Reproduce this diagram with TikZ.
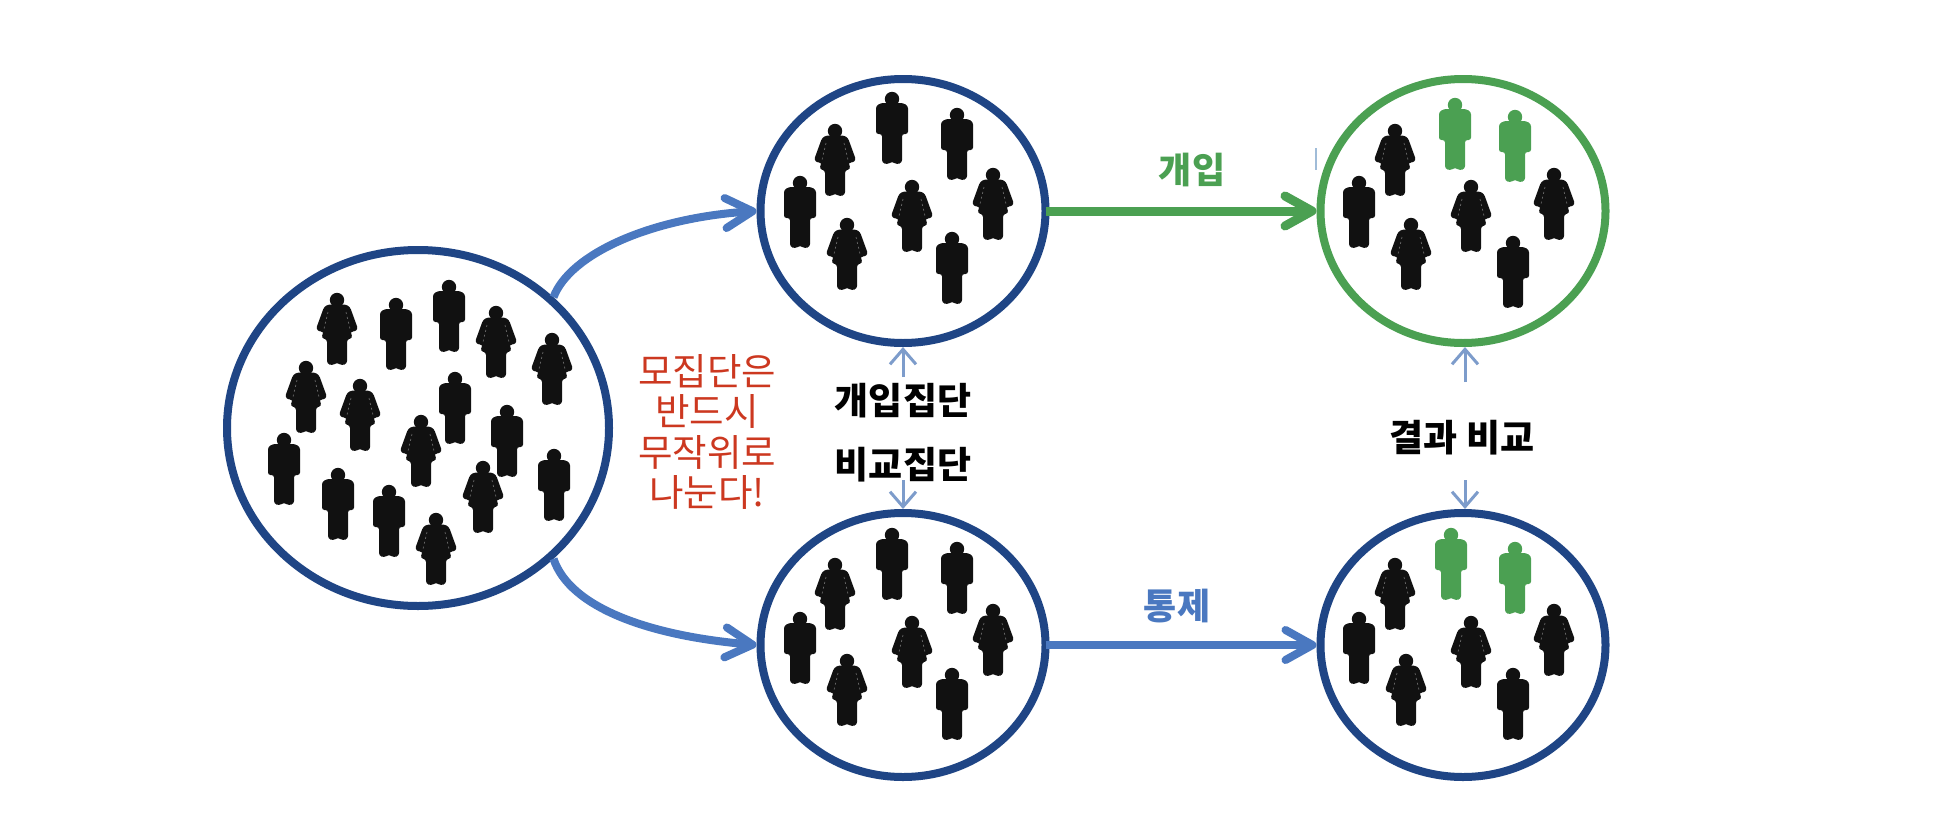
\documentclass[tikz,border=0pt]{standalone}
\usepackage{fontspec}
\setmainfont{Noto Sans CJK KR}
\usetikzlibrary{arrows.meta,shapes.geometric}
\definecolor{ring}{HTML}{1F4585}
\definecolor{arrowblue}{HTML}{4A78C0}
\definecolor{groupgreen}{HTML}{4BA052}
\definecolor{redtext}{HTML}{CC3820}
\definecolor{softblue}{HTML}{7D9CCB}
\definecolor{tickblue}{HTML}{A0BCD8}
\definecolor{ink}{HTML}{111111}
\definecolor{seam}{HTML}{666666}
\tikzset{
  x=1pt,y=-1pt,
  bigring/.style={ellipse,draw=ring,line width=8pt,inner sep=0pt,minimum width=382pt,minimum height=356pt},
  smallring/.style={ellipse,draw=ring,line width=8pt,inner sep=0pt,minimum width=285pt,minimum height=264pt},
  greenring/.style={smallring,draw=groupgreen},
  curvearrow/.style={draw=arrowblue,line width=8pt,-{Straight Barb[length=27pt,width=30pt,round]}},
  greenarrow/.style={draw=groupgreen,line width=9pt,shorten <=-4pt,-{Straight Barb[length=27pt,width=30pt,round]}},
  bluearrow/.style={draw=arrowblue,line width=8pt,shorten <=-4pt,-{Straight Barb[length=27pt,width=30pt,round]}},
  softarrow/.style={draw=softblue,line width=3pt,-{Straight Barb[length=15pt,width=26pt]}},
  label black/.style={inner sep=0pt,font=\fontsize{37}{37}\selectfont\bfseries,text=black},
  label arrow/.style={inner sep=0pt,font=\fontsize{36}{36}\selectfont\bfseries},
  pics/man/.style={code={
    \fill[#1] (0,7) circle[radius=7.2];
    \fill[#1,rounded corners=2.5] (-16,14)--(-11,11)--(11,11)--(16,14)--(16,42)--(10,42)--(10,70.5)--(5,72.5)--(0.8,70)--(-0.8,70)--(-5,72.5)--(-10,70.5)--(-10,42)--(-16,42)--cycle;
  }},
  pics/woman/.style={code={
    \fill[#1] (0,7) circle[radius=7.2];
    \fill[#1,rounded corners=2.5] (-9,11.5)--(9,11.5)--(13,14)--(21,36)--(17,39)--(13.5,38)--(15.5,45)--(10,46.5)--(10,70.5)--(5,72.5)--(0.8,70)--(-0.8,70)--(-5,72.5)--(-10,70.5)--(-10,46.5)--(-15.5,45)--(-13.5,38)--(-17,39)--(-21,36)--(-13,14)--cycle;
    \draw[seam,line width=0.7pt,dash pattern=on 2pt off 3pt] (9,19)--(13,36) (-9,19)--(-13,36);
  }}
}
\begin{document}
\begin{tikzpicture}
\useasboundingbox (0,0) rectangle (1938,838);
\fill[white] (0,0) rectangle (1938,838);
% rings
\node[bigring] (pop) at (418,428) {};
\node[smallring] (treatA) at (903,211) {};
\node[greenring] (treatB) at (1463,211) {};
\node[smallring] (ctrlA) at (903,645) {};
\node[smallring] (ctrlB) at (1463,645) {};
% connectors
\draw[curvearrow] (pop.44) .. controls (570,254) and (650,218) .. (treatA.west);
\draw[curvearrow] (pop.-44) .. controls (570,608) and (650,636) .. (ctrlA.west);
\draw[greenarrow] (treatA.east) -- (treatB.west);
\draw[bluearrow] (ctrlA.east) -- (ctrlB.west);
\coordinate (ta) at (903,377);
\coordinate (tb) at (903,480);
\coordinate (ra) at (1465,382);
\coordinate (rb) at (1465,480);
\draw[softarrow] (ta) -- (treatA.south);
\draw[softarrow] (tb) -- (ctrlA.north);
\draw[softarrow] (ra) -- (ra |- treatB.south);
\draw[softarrow] (rb) -- (rb |- ctrlB.north);
\coordinate (tickA) at (1316,148);
\coordinate (tickB) at (1316,170);
\draw[tickblue,line width=1.2pt] (tickA) -- (tickB);
% labels
\node[inner sep=0pt,align=center,text=redtext,font=\fontsize{37.5}{40.3}\selectfont] (note) at (707,432) {모집단은\\반드시\\무작위로\\나눈다!};
\node[label black] (t1) at (903,401) {개입집단};
\node[label black] (t2) at (903,465) {비교집단};
\node[label black] (t3) at (1462,438) {결과 비교};
\node[label arrow,text=groupgreen] (t4) at (1192,170) {개입};
\node[label arrow,text=arrowblue] (t5) at (1177,606) {통제};
% population
\foreach \x/\y in {337/293,496/306,552/333,306/361,360/379,421/415,483/461,436/513}
  \pic at (\x,\y) {woman=ink};
\foreach \x/\y in {396/298,449/280,455/372,507/405,284/433,338/468,389/485,554/449}
  \pic at (\x,\y) {man=ink};
% treatment before
\foreach \x/\y in {835/124,912/180,993/168,847/218}
  \pic at (\x,\y) {woman=ink};
\foreach \x/\y in {800/176,892/92,957/108,952/232}
  \pic at (\x,\y) {man=ink};
% treatment after
\foreach \x/\y in {1395/124,1471/180,1554/168,1411/218}
  \pic at (\x,\y) {woman=ink};
\foreach \x/\y in {1359/176,1513/236}
  \pic at (\x,\y) {man=ink};
\foreach \x/\y in {1455/98,1515/110}
  \pic at (\x,\y) {man=groupgreen};
% control before
\foreach \x/\y in {835/558,912/616,993/604,847/654}
  \pic at (\x,\y) {woman=ink};
\foreach \x/\y in {800/612,892/528,957/542,952/668}
  \pic at (\x,\y) {man=ink};
% control after
\foreach \x/\y in {1395/558,1471/616,1554/604,1406/654}
  \pic at (\x,\y) {woman=ink};
\foreach \x/\y in {1359/612,1513/668}
  \pic at (\x,\y) {man=ink};
\foreach \x/\y in {1451/528,1515/542}
  \pic at (\x,\y) {man=groupgreen};
\end{tikzpicture}
\end{document}
